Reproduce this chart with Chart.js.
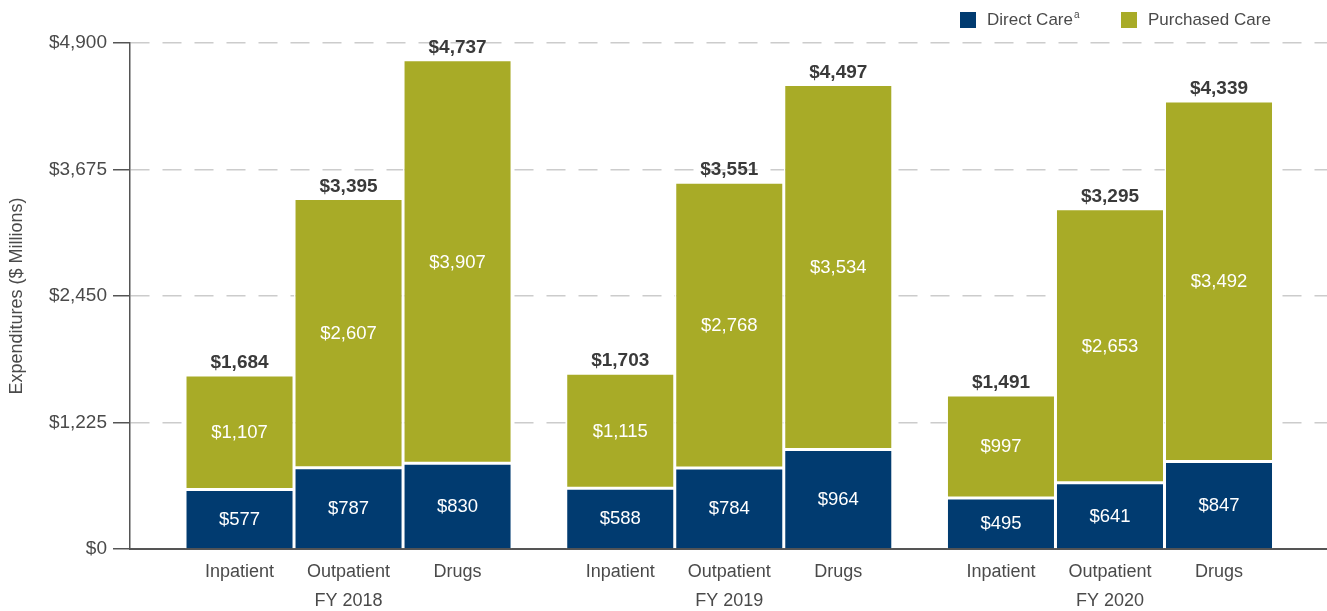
<!DOCTYPE html>
<html lang="en">
<head>
<meta charset="utf-8">
<title>Expenditures by Care Type</title>
<script src="https://cdn.jsdelivr.net/npm/chart.js@4.4.1/dist/chart.umd.min.js"></script>
<style>
  html, body { margin: 0; padding: 0; background: #fff; }
  #chartWrap { width: 1327px; height: 611px; }
</style>
</head>
<body>
<div id="chartWrap"><canvas id="chartExpenditures" width="1327" height="611"></canvas></div>
<script>
// Fiscal years (groups) and care types (bars within a group)
const fiscalYears = ['FY 2018', 'FY 2019', 'FY 2020'];
const careTypes = ['Inpatient', 'Outpatient', 'Drugs'];

// Direct care, $ millions, one value per fiscal year
const directInpatient = [577, 588, 495];
const directOutpatient = [787, 784, 641];
const directDrugs = [830, 964, 847];

// Purchased care, $ millions
const purchasedInpatient = [1107, 1115, 997];
const purchasedOutpatient = [2607, 2768, 2653];
const purchasedDrugs = [3907, 3534, 3492];

// Reported totals shown above each bar
const totalInpatient = [1684, 1703, 1491];
const totalOutpatient = [3395, 3551, 3295];
const totalDrugs = [4737, 4497, 4339];

// Value axis ticks
const yTicks = [0, 1225, 2450, 3675, 4900];

// Colors and type
const COLOR_DIRECT = '#013b70';
const COLOR_PURCHASED = '#a8ab27';
const TEXT_COLOR = '#4a4a4a';
const FONT_FAMILY = "'Liberation Sans', Arial, sans-serif";

const directByType = [directInpatient, directOutpatient, directDrugs];
const purchasedByType = [purchasedInpatient, purchasedOutpatient, purchasedDrugs];
const totalsByType = [totalInpatient, totalOutpatient, totalDrugs];

function formatDollars(v) {
  return '$' + v.toLocaleString('en-US');
}

// One stack per care type; direct care sits at the bottom of each stack
const datasets = [];
careTypes.forEach((type, t) => {
  datasets.push({
    label: 'Direct Care',
    stack: type,
    part: 'direct',
    careType: t,
    data: directByType[t].map((v, i) => ({ x: i, y: v })),
    backgroundColor: COLOR_DIRECT,
    borderColor: '#ffffff',
    borderWidth: 1.5,
    borderSkipped: 'start'
  });
  datasets.push({
    label: 'Purchased Care',
    stack: type,
    part: 'purchased',
    careType: t,
    data: purchasedByType[t].map((v, i) => ({ x: i, y: v })),
    backgroundColor: COLOR_PURCHASED,
    borderColor: '#ffffff',
    borderWidth: 1.5,
    borderSkipped: false
  });
});

// Segment values, totals and the two rows of category labels
const barLabels = {
  id: 'barLabels',
  afterDatasetsDraw(chart) {
    const ctx = chart.ctx;
    ctx.save();
    ctx.textAlign = 'center';
    ctx.textBaseline = 'middle';

    chart.data.datasets.forEach((ds, d) => {
      const meta = chart.getDatasetMeta(d);
      meta.data.forEach((bar, i) => {
        ctx.fillStyle = '#ffffff';
        ctx.font = '18.5px ' + FONT_FAMILY;
        ctx.fillText(formatDollars(ds.data[i].y), bar.x, (bar.y + bar.base) / 2 + 1);

        if (ds.part === 'purchased') {
          ctx.fillStyle = '#3a3a3a';
          ctx.font = 'bold 19px ' + FONT_FAMILY;
          ctx.fillText(formatDollars(totalsByType[ds.careType][i]), bar.x, bar.y - 12);
        }

        if (ds.part === 'direct') {
          ctx.fillStyle = TEXT_COLOR;
          ctx.font = '18px ' + FONT_FAMILY;
          ctx.fillText(careTypes[ds.careType], bar.x, chart.chartArea.bottom + 23);
        }
      });
    });

    // Fiscal year under each group
    const xScale = chart.scales.x;
    ctx.fillStyle = TEXT_COLOR;
    ctx.font = '18px ' + FONT_FAMILY;
    fiscalYears.forEach((fy, i) => {
      ctx.fillText(fy, xScale.getPixelForValue(i), chart.chartArea.bottom + 52);
    });
    ctx.restore();
  }
};

// Legend in the top right corner
const careLegend = {
  id: 'careLegend',
  afterDraw(chart) {
    const ctx = chart.ctx;
    const items = [
      { color: COLOR_DIRECT, text: 'Direct Care', sup: 'a', x: 960 },
      { color: COLOR_PURCHASED, text: 'Purchased Care', sup: '', x: 1121 }
    ];
    ctx.save();
    ctx.textBaseline = 'middle';
    ctx.textAlign = 'left';
    items.forEach(item => {
      ctx.fillStyle = item.color;
      ctx.fillRect(item.x, 12, 16, 16);
      ctx.fillStyle = TEXT_COLOR;
      ctx.font = '17px ' + FONT_FAMILY;
      ctx.fillText(item.text, item.x + 27, 20);
      if (item.sup) {
        const w = ctx.measureText(item.text).width;
        ctx.font = '10px ' + FONT_FAMILY;
        ctx.fillText(item.sup, item.x + 28 + w, 15);
      }
    });
    ctx.restore();
  }
};

const chart = new Chart(document.getElementById('chartExpenditures').getContext('2d'), {
  type: 'bar',
  data: { datasets: datasets },
  options: {
    responsive: false,
    animation: false,
    devicePixelRatio: 1,
    layout: { padding: { top: 43, bottom: 62, left: 0, right: 0 } },
    datasets: {
      bar: { categoryPercentage: 0.859, barPercentage: 1 }
    },
    plugins: {
      legend: { display: false },
      tooltip: { enabled: false }
    },
    scales: {
      x: {
        type: 'linear',
        min: -0.574,
        max: 2.57,
        offset: false,
        afterBuildTicks: scale => {
          scale.ticks = fiscalYears.map((_, i) => ({ value: i }));
        },
        ticks: { display: false },
        grid: { display: false, drawTicks: false },
        border: { display: true, color: '#555555', width: 2 }
      },
      y: {
        stacked: true,
        min: 0,
        max: 4900,
        afterBuildTicks: scale => {
          scale.ticks = yTicks.map(v => ({ value: v }));
        },
        afterFit: scale => {
          scale.width = 130;
        },
        ticks: {
          color: TEXT_COLOR,
          padding: 6,
          font: { size: 19, family: FONT_FAMILY },
          callback: v => formatDollars(v)
        },
        grid: {
          color: ctx => (ctx.tick && ctx.tick.value === 0) ? 'rgba(0,0,0,0)' : '#cccccc',
          lineWidth: 1.5,
          tickLength: 17,
          tickColor: '#555555',
          tickWidth: 1.5,
          tickBorderDash: []
        },
        // dash here applies to the grid lines; the axis line stays solid
        border: { display: true, color: '#555555', width: 1.5, dash: [19, 13] },
        title: {
          display: true,
          text: 'Expenditures ($ Millions)',
          color: TEXT_COLOR,
          padding: { top: 6, bottom: 4 },
          font: { size: 18, family: FONT_FAMILY }
        }
      }
    }
  },
  plugins: [barLabels, careLegend]
});
</script>
</body>
</html>
